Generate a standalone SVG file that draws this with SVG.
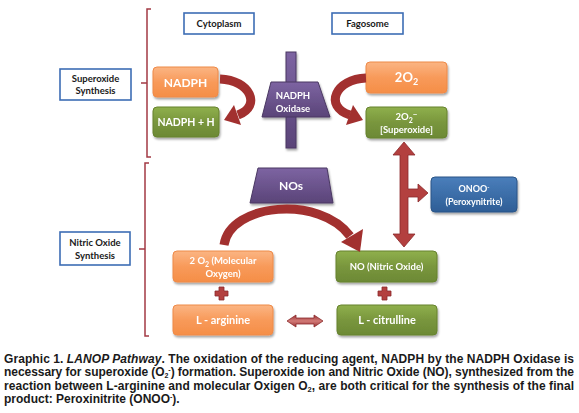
<svg xmlns="http://www.w3.org/2000/svg" width="579" height="413" viewBox="0 0 579 413">
<defs>
<linearGradient id="gOr" x1="0" y1="0" x2="0" y2="1"><stop offset="0" stop-color="#FBB583"/><stop offset="0.5" stop-color="#F89A5A"/><stop offset="1" stop-color="#F58E47"/></linearGradient>
<linearGradient id="gGr" x1="0" y1="0" x2="0" y2="1"><stop offset="0" stop-color="#8FB04C"/><stop offset="0.5" stop-color="#79963D"/><stop offset="1" stop-color="#6C8935"/></linearGradient>
<linearGradient id="gBl" x1="0" y1="0" x2="0" y2="1"><stop offset="0" stop-color="#4A7EBB"/><stop offset="1" stop-color="#2E5E96"/></linearGradient>
<linearGradient id="gPu" x1="0" y1="0" x2="0" y2="1"><stop offset="0" stop-color="#7D64A2"/><stop offset="1" stop-color="#5A4478"/></linearGradient>
<linearGradient id="gRdV" x1="0" y1="0" x2="0" y2="1"><stop offset="0" stop-color="#9A3234"/><stop offset="0.5" stop-color="#D27A77"/><stop offset="1" stop-color="#9A3234"/></linearGradient>
<filter id="sh" x="-10%" y="-10%" width="130%" height="140%"><feDropShadow dx="1" dy="2" stdDeviation="1.2" flood-color="#000" flood-opacity="0.35"/></filter>
</defs>
<style>
.lab{fill:#fff;stroke:#3D6DB5;stroke-width:1.6}
.labt{font-family:Lato,"Open Sans","Liberation Sans",sans-serif;font-weight:bold;font-size:9.5px;fill:#1a1a1a;text-anchor:middle}
.or{fill:url(#gOr);stroke:#EE8A48;stroke-width:1}
.gr{fill:url(#gGr);stroke:#66822F;stroke-width:1}
.bl{fill:url(#gBl);stroke:#2A5486;stroke-width:1}
.pu{fill:url(#gPu);stroke:#4A3862;stroke-width:1}
.wt{font-family:Lato,"Open Sans","Liberation Sans",sans-serif;font-weight:bold;fill:#fff;text-anchor:middle}
.br{fill:none;stroke:#A33A44;stroke-width:1.5}
.ca{stroke:#A2302F;stroke-width:9;fill:none}
.ah{fill:#A2302F}
.red{fill:#B3403F;stroke:#8A2A2B;stroke-width:0.8}
.cap{font-family:"Liberation Sans",Arial,sans-serif;font-weight:bold;font-size:12px;fill:#1a1a1a}
</style>

<g id="brackets">
<path class="br" d="M151 9 H147 V157 H151 M147 83 H141"/>
<path class="br" d="M149 163 H145 V336 H149 M145 249 H139"/>
</g>

<g id="cytoplasm"><rect class="lab" x="184" y="13" width="70" height="21"/><text class="labt" x="219" y="27">Cytoplasm</text></g>
<g id="fagosome"><rect class="lab" x="332" y="13" width="71" height="21"/><text class="labt" x="367.5" y="27">Fagosome</text></g>
<g id="superoxide-synthesis"><rect class="lab" x="60" y="69" width="71" height="31"/><text class="labt" x="95.5" y="81.5">Superoxide</text><text class="labt" x="95.5" y="94">Synthesis</text></g>
<g id="nitric-oxide-synthesis"><rect class="lab" x="60" y="232" width="70" height="33"/><text class="labt" x="95" y="245.5">Nitric Oxide</text><text class="labt" x="95" y="258.5">Synthesis</text></g>

<g id="nadph-oxidase" filter="url(#sh)">
<rect class="pu" x="286" y="52" width="10" height="96"/>
<polygon class="pu" points="271,82 318,82 330,117 262,117"/>
<text class="wt" x="293" y="98.5" font-size="9.5">NADPH</text>
<text class="wt" x="293" y="111.5" font-size="9.5">Oxidase</text>
</g>

<g id="nadph" filter="url(#sh)"><rect class="or" x="153" y="67" width="65" height="30" rx="4"/><text class="wt" x="185.5" y="86.5" font-size="12">NADPH</text></g>
<g id="nadph-h" filter="url(#sh)"><rect class="gr" x="153" y="107" width="66" height="30" rx="4"/><text class="wt" x="186" y="125.5" font-size="10.5">NADPH + H</text></g>
<g id="o2" filter="url(#sh)"><rect class="or" x="366" y="62" width="81" height="31" rx="4"/><text class="wt" x="406.5" y="82" font-size="13">2O<tspan font-size="9" dy="3">2</tspan></text></g>
<g id="superoxide" filter="url(#sh)"><rect class="gr" x="366" y="107" width="81" height="31" rx="4"/><text class="wt" x="406.5" y="120" font-size="9.5">2O<tspan font-size="7" dy="2.5">2</tspan><tspan font-size="8" dy="-6">−</tspan></text><text class="wt" x="406.5" y="133" font-size="9.5">[Superoxide]</text></g>
<g id="peroxynitrite" filter="url(#sh)"><rect class="bl" x="431" y="177" width="86" height="35" rx="4"/><text class="wt" x="474" y="191.5" font-size="9">ONOO<tspan font-size="6" dy="-3">-</tspan></text><text class="wt" x="474" y="205" font-size="9">(Peroxynitrite)</text></g>
<g id="nos" filter="url(#sh)"><polygon class="pu" points="258,168 327,168 333,203 250,203"/><text class="wt" x="291" y="190" font-size="12">NOs</text></g>
<g id="molecular-oxygen" filter="url(#sh)"><rect class="or" x="173" y="251" width="100" height="31" rx="4"/><text class="wt" x="223" y="264" font-size="9.5">2 O<tspan font-size="7" dy="2.5">2</tspan><tspan dy="-2.5"> (Molecular</tspan></text><text class="wt" x="223" y="277" font-size="9.5">Oxygen)</text></g>
<g id="nitric-oxide" filter="url(#sh)"><rect class="gr" x="336" y="251" width="101" height="31" rx="4"/><text class="wt" x="386.5" y="270" font-size="9.5">NO (Nitric Oxide)</text></g>
<g id="l-arginine" filter="url(#sh)"><rect class="or" x="173" y="305" width="100" height="30" rx="4"/><text class="wt" x="223" y="324" font-size="11">L - arginine</text></g>
<g id="l-citrulline" filter="url(#sh)"><rect class="gr" x="337" y="305" width="100" height="30" rx="4"/><text class="wt" x="387" y="324" font-size="11">L - citrulline</text></g>

<g id="connectors">
<path class="ca" d="M220 79 C250 80 262 106 238 115"/>
<polygon class="ah" points="224,120 241,125 234,105"/>
<path class="ca" d="M366 78 C336 79 323 106 350 115"/>
<polygon class="ah" points="363,120 346,125 353,105"/>
<path class="ca" d="M224 245 C230 203 320 195 350 236"/>
<polygon class="ah" points="360,252 341,242 363,229"/>
<path class="red" d="M404 142 L415 155 H408 V189 H418 V184 L428 193 L418 202 V197 H408 V234 H415 L404 247 L393 234 H400 V155 H393 Z"/>
<path fill="url(#gRdV)" stroke="#8A2A2B" stroke-width="0.8" d="M287 321 L296 315 V318 H314 V315 L323 321 L314 327 V324 H296 V327 Z"/>
<path class="red" d="M219 287 H224 V291 H228 V296 H224 V300 H219 V296 H215 V291 H219 Z"/>
<path class="red" d="M382 287 H387 V291 H391 V296 H387 V300 H382 V296 H378 V291 H382 Z"/>
</g>

<g id="caption" class="cap">
<text x="4" y="362.5" textLength="570" lengthAdjust="spacing">Graphic 1. <tspan font-style="italic">LANOP Pathway</tspan>. The oxidation of the reducing agent, NADPH by the NADPH Oxidase is</text>
<text x="4" y="376" textLength="570" lengthAdjust="spacing">necessary for superoxide (O<tspan font-size="7" dy="2">2</tspan><tspan font-size="7" dy="-6">-</tspan><tspan dy="4">) formation. Superoxide ion and Nitric Oxide (NO), synthesized from the</tspan></text>
<text x="4" y="389.5" textLength="570" lengthAdjust="spacing">reaction between L-arginine and molecular Oxigen O<tspan font-size="7.5" dy="2">2</tspan><tspan dy="-2">, are both critical for the synthesis of the final</tspan></text>
<text x="4" y="403">product: Peroxinitrite (ONOO<tspan font-size="7" dy="-4">-</tspan><tspan dy="4">).</tspan></text>
</g>
</svg>
